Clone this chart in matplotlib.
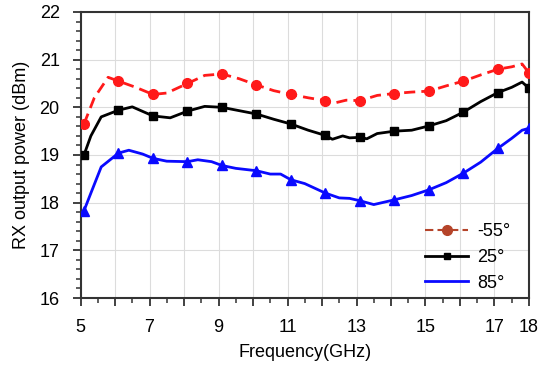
import matplotlib
matplotlib.use("Agg")
import matplotlib.pyplot as plt
from matplotlib.ticker import MultipleLocator, FixedLocator
from matplotlib.lines import Line2D

plt.rcParams['font.family'] = ['Liberation Sans', 'DejaVu Sans']

# -55 deg series
freq_m55 = [5.1, 5.4, 5.8, 6.1, 6.6, 7.1, 7.5, 8.1, 8.6, 9.1, 9.6, 10.1, 10.6, 11.1, 11.6,
            12.1, 12.3, 12.7, 13.1, 13.6, 14.1, 14.6, 15.1, 15.6, 16.1, 16.6, 17.1, 17.5, 17.8, 18.0]
pow_m55 = [19.65, 20.2, 20.63, 20.55, 20.42, 20.27, 20.3, 20.5, 20.67, 20.7, 20.6, 20.47, 20.35, 20.27, 20.2,
           20.14, 20.08, 20.15, 20.14, 20.25, 20.29, 20.32, 20.34, 20.45, 20.55, 20.68, 20.80, 20.85, 20.91, 20.72]

# 25 deg series
freq_25 = [5.1, 5.3, 5.6, 6.1, 6.5, 7.1, 7.6, 8.1, 8.6, 9.1, 9.6, 10.1, 10.6, 11.1, 11.6,
           12.1, 12.3, 12.6, 12.8, 13.1, 13.3, 13.6, 14.1, 14.6, 15.1, 15.6, 16.1, 16.6, 17.1, 17.5, 17.8, 18.0]
pow_25 = [19.0, 19.4, 19.8, 19.94, 20.01, 19.82, 19.78, 19.92, 20.02, 20.0, 19.93, 19.86, 19.75, 19.65, 19.52,
          19.41, 19.33, 19.40, 19.36, 19.37, 19.34, 19.45, 19.50, 19.52, 19.61, 19.72, 19.90, 20.12, 20.31, 20.42, 20.53, 20.40]

# 85 deg series
freq_85 = [5.1, 5.3, 5.6, 6.1, 6.4, 6.8, 7.1, 7.5, 8.1, 8.4, 8.8, 9.1, 9.5, 10.1, 10.5, 10.8, 11.1, 11.5,
           12.1, 12.5, 12.8, 13.1, 13.3, 13.5, 14.1, 14.6, 15.1, 15.6, 16.1, 16.6, 17.1, 17.5, 17.8, 18.0]
pow_85 = [17.83, 18.2, 18.75, 19.04, 19.10, 19.02, 18.93, 18.87, 18.86, 18.9, 18.86, 18.78, 18.72, 18.67, 18.6, 18.6, 18.48, 18.4,
          18.20, 18.1, 18.09, 18.04, 18.0, 17.96, 18.06, 18.15, 18.27, 18.42, 18.62, 18.85, 19.14, 19.35, 19.52, 19.56]

marker_freqs = [5.1, 6.1, 7.1, 8.1, 9.1, 10.1, 11.1, 12.1, 13.1, 14.1, 15.1, 16.1, 17.1, 18.0]
labels = ['-55°', '25°', '85°']
x_ticklabels = ['5', '', '7', '', '9', '', '11', '', '13', '', '15', '', '17', '18']

def mk_idx(xs):
    return [xs.index(f) for f in marker_freqs]

fig = plt.figure(figsize=(5.5, 3.69), dpi=100)
ax = fig.add_axes([0.1464, 0.1924, 0.8154, 0.7751])

ax.plot(freq_m55, pow_m55, color='#ff1a1a', lw=2, ls=(0, (4, 2.2)), marker='o', ms=7,
        markevery=mk_idx(freq_m55), zorder=3)
ax.plot(freq_25, pow_25, color='black', lw=2, marker='s', ms=6,
        markevery=mk_idx(freq_25), zorder=3)
ax.plot(freq_85, pow_85, color='#0a0aff', lw=2, marker='^', ms=7,
        markevery=mk_idx(freq_85), zorder=3)

# legend proxies
h1 = Line2D([], [], color='#b5442a', lw=1.5, ls=(0, (4, 2)), marker='o', ms=7)
h2 = Line2D([], [], color='black', lw=2, marker='s', ms=5)
h3 = Line2D([], [], color='#0a0aff', lw=2)
ax.legend([h1, h2, h3], labels, loc='lower right', bbox_to_anchor=(0.995, -0.035),
          frameon=False, fontsize=13, handlelength=2.4, handletextpad=0.5,
          labelspacing=0.48)

ax.set_xlim(5, 18)
ax.set_ylim(16, 22)
ax.xaxis.set_major_locator(FixedLocator(list(range(5, 19))))
ax.set_xticklabels(x_ticklabels)
ax.xaxis.set_minor_locator(MultipleLocator(0.5))
ax.yaxis.set_major_locator(MultipleLocator(1))
ax.yaxis.set_minor_locator(MultipleLocator(0.2))

ax.grid(True, which='major', color='#dcdcdc', lw=0.8)
ax.set_axisbelow(True)
ax.tick_params(which='major', length=6, width=1.3, labelsize=13, color='#333333')
ax.tick_params(axis='x', which='major', pad=9)
ax.tick_params(axis='y', which='major', pad=9)
ax.tick_params(which='minor', length=3.5, width=1.1, color='#333333')
for s in ax.spines.values():
    s.set_linewidth(1.5)
    s.set_color('#333333')

ax.set_xlabel('Frequency(GHz)', fontsize=13, labelpad=6)
ax.set_ylabel('RX output power (dBm)', fontsize=13, labelpad=7)

fig.savefig('out.png', dpi=100)
